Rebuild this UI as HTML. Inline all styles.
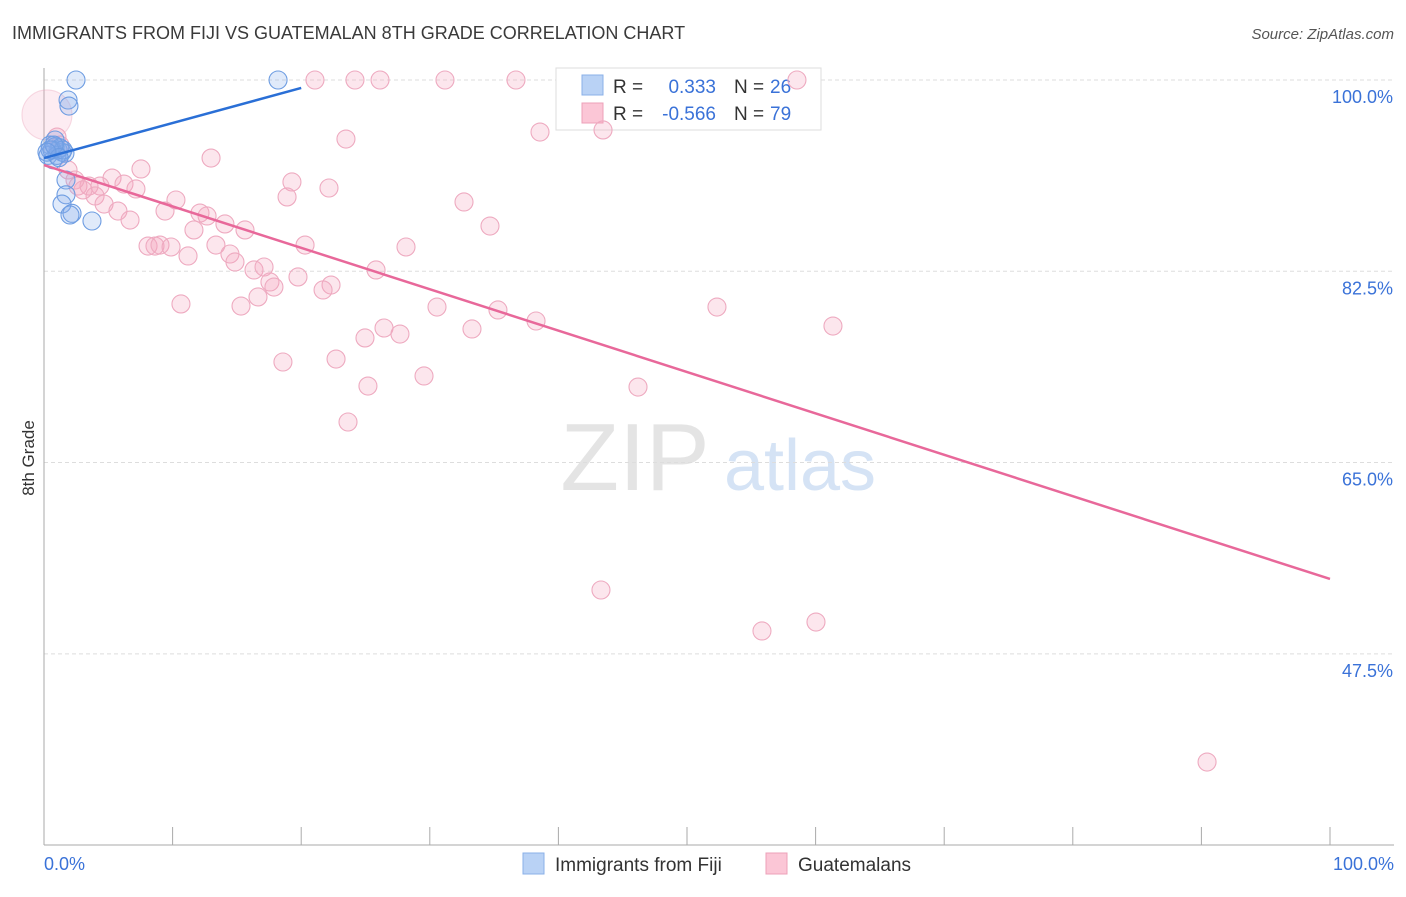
<!DOCTYPE html>
<html><head><meta charset="utf-8"><style>
body{margin:0;background:#fff;font-family:"Liberation Sans",sans-serif;}
svg text{font-family:"Liberation Sans",sans-serif;}
</style></head><body>
<svg id="chart" width="1406" height="892" xmlns="http://www.w3.org/2000/svg">
<text x="12" y="39" font-size="18" fill="#3a3a3a">IMMIGRANTS FROM FIJI VS GUATEMALAN 8TH GRADE CORRELATION CHART</text>
<text x="1394" y="39" font-size="15" fill="#555" text-anchor="end" font-style="italic">Source: ZipAtlas.com</text>
<text x="635" y="490" font-size="96" fill="#e4e4e4" font-family="Liberation Serif" text-anchor="middle">ZIP</text>
<text x="800" y="490" font-size="72" fill="#d5e3f5" text-anchor="middle">atlas</text>
<g id="grid"></g>
<g id="axes"></g>
<g>
<rect x="556" y="68" width="265" height="62" fill="#fff" stroke="#ddd"/>
<rect x="582" y="75" width="21" height="20" fill="#b9d2f5" stroke="#8ab0e8"/>
<rect x="582" y="103" width="21" height="20" fill="#fbc6d6" stroke="#eda0b8"/>
<text x="613" y="93" font-size="19" fill="#333">R = </text><text x="716" y="93" font-size="19" fill="#3a72d8" text-anchor="end">0.333</text>
<text x="734" y="93" font-size="19" fill="#333">N = </text><text x="770" y="93" font-size="19" fill="#3a72d8">26</text>
<text x="613" y="120" font-size="19" fill="#333">R = </text><text x="716" y="120" font-size="19" fill="#3a72d8" text-anchor="end">-0.566</text>
<text x="734" y="120" font-size="19" fill="#333">N = </text><text x="770" y="120" font-size="19" fill="#3a72d8">79</text>
</g>
<g id="pts"></g>
<g id="lines"></g>
<text x="34" y="458" font-size="17" fill="#333" transform="rotate(-90 34 458)" text-anchor="middle">8th Grade</text>
<text x="44" y="870" font-size="18" fill="#3a72d8">0.0%</text>
<text x="1394" y="870" font-size="18" fill="#3a72d8" text-anchor="end">100.0%</text>
<g>
<rect x="523" y="853" width="21" height="21" fill="#b9d2f5" stroke="#8ab0e8"/>
<text x="555" y="871" font-size="19" fill="#333">Immigrants from Fiji</text>
<rect x="766" y="853" width="21" height="21" fill="#fbc6d6" stroke="#eda0b8"/>
<text x="798" y="871" font-size="19" fill="#333">Guatemalans</text>
</g>
</svg>
<script>
const yTicks=[100,82.5,65,47.5];
const fijiX=[2.49,18.2,1.87,1.94,0.86,0.47,1.09,1.4,1.63,0.31,0.7,1.71,1.71,1.4,2.18,2.02,3.73,0.86,1.24,0.62,1.01,1.48,0.47,0.78,1.17,0.23];
const fijiY=[100,100,98.17,97.62,94.51,94.05,93.6,93.4,93.3,93.1,92.7,90.85,89.5,88.65,87.8,87.65,87.1,93.9,93.8,93.6,93.1,93.6,93.6,94.05,92.9,93.4];
const guaX=[0.23,21.07,24.18,26.13,31.18,36.7,58.55,38.57,43.47,23.48,12.99,1.01,1.24,7.54,5.29,1.87,2.64,3.5,4.35,6.22,7.15,19.28,22.16,18.9,10.26,3.97,4.67,5.75,9.41,12.13,12.68,14.07,15.63,11.66,6.69,32.66,34.68,20.3,28.15,8.09,8.63,9.02,9.88,11.2,13.37,14.46,14.85,16.33,17.11,25.82,19.75,17.57,17.88,16.64,22.32,21.7,10.65,15.32,30.56,35.3,52.33,38.26,61.35,26.44,27.68,24.96,33.28,18.58,22.71,29.55,25.19,46.19,23.64,43.31,55.83,60.03,90.44,2.41,3.03];
const guaY=[96.8,100,100,100,100,100,100,95.24,95.43,94.6,92.86,94.78,94.05,91.86,91.03,91.77,90.3,90.3,90.3,90.48,90.03,90.67,90.12,89.3,89.02,89.39,88.65,88.01,88.01,87.83,87.56,86.83,86.28,86.28,87.19,88.84,86.64,84.9,84.72,84.81,84.81,84.9,84.72,83.9,84.9,84.08,83.35,82.62,82.89,82.62,81.98,81.52,81.06,80.15,81.24,80.79,79.51,79.32,79.23,78.96,79.23,77.95,77.49,77.31,76.76,76.4,77.22,74.2,74.47,72.92,72.0,71.91,68.71,53.34,49.59,50.41,37.6,90.85,89.94];
const fijiTrend=[[0,92.86],[20,99.27]];
const guaTrend=[[0,92.22],[100,54.35]];
const NS="http://www.w3.org/2000/svg";
const X=v=>44+v*12.86, Y=v=>80+(100-v)*10.93;
function mk(t,a,p){const e=document.createElementNS(NS,t);for(const k in a)e.setAttribute(k,a[k]);document.getElementById(p).appendChild(e);return e;}
yTicks.forEach(t=>{
 const l=mk('line',{x1:44,x2:1394,y1:Y(t),y2:Y(t),stroke:'#ddd','stroke-dasharray':'4,3'},'grid');
 
 
 const tx=mk('text',{x:1393,y:Y(t)+23,'font-size':18,fill:'#3a72d8','text-anchor':'end'},'grid');
 tx.textContent=t.toFixed(1)+'%';
 
 
});
let a=mk('line',{x1:44,x2:44,y1:68,y2:845,stroke:'#aaa'},'axes');


a=mk('line',{x1:44,x2:1394,y1:845,y2:845,stroke:'#aaa'},'axes');


for(let i=0;i<=10;i++){
 const t=mk('line',{x1:X(i*10),x2:X(i*10),y1:827,y2:845,stroke:'#aaa'},'axes');
 
 
}
guaX.forEach((x,i)=>{
 const c=mk('circle',{cx:X(x),cy:Y(guaY[i]),r:i===0?25:9,fill:i===0?'rgba(246,170,195,0.22)':'rgba(246,165,192,0.28)',stroke:i===0?'rgba(236,164,188,0.4)':'#eeaac0','stroke-width':1.1},'pts');
 
 
});
fijiX.forEach((x,i)=>{
 const c=mk('circle',{cx:X(x),cy:Y(fijiY[i]),r:9,fill:'rgba(130,170,235,0.25)',stroke:'#6e9de2','stroke-width':1.1},'pts');
 
 
});
let ln=mk('line',{x1:X(fijiTrend[0][0]),y1:Y(fijiTrend[0][1]),x2:X(fijiTrend[1][0]),y2:Y(fijiTrend[1][1]),stroke:'#2a6fd6','stroke-width':2.5},'lines');


ln=mk('line',{x1:X(guaTrend[0][0]),y1:Y(guaTrend[0][1]),x2:X(guaTrend[1][0]),y2:Y(guaTrend[1][1]),stroke:'#e8689a','stroke-width':2.5},'lines');


</script>
</body></html>
